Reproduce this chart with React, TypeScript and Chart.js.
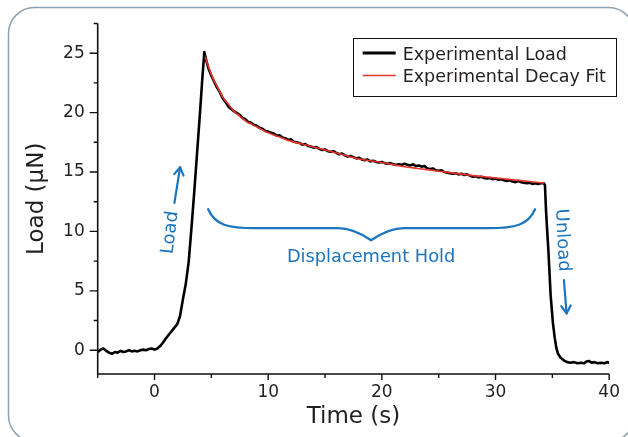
import React, { useEffect, useRef } from "react";
import { Chart, registerables } from "chart.js";

Chart.register(...registerables);

// ---------- data ----------
const preLoadTime = [
  -5, -4.75, -4.5, -4.25, -4, -3.75, -3.5, -3.25, -3, -2.75, -2.5, -2.25, -2, -1.75, -1.5, -1.25, -1, -0.75, -0.5, -0.25, 0,
  0.25, 0.5, 0.75, 1, 1.25, 1.5, 1.75, 2, 2.25, 2.5, 2.75, 3, 3.25, 3.5, 3.75, 4, 4.2, 4.38, 4.55, 4.75,
];
const preLoadValue = [
  -0.15, 0.05, 0.15, -0.05, -0.2, -0.3, -0.15, -0.2, -0.05, -0.15, -0.1, 0.0, -0.1, -0.05, -0.1, 0.0, 0.05, 0.0, 0.1, 0.15, 0.05,
  0.15, 0.35, 0.65, 1.0, 1.3, 1.6, 1.9, 2.2, 2.9, 4.3, 5.6, 7.4, 10.3, 13.4, 16.7, 20.0, 22.8, 25.1, 24.4, 23.7,
];

const holdTime = [
  5, 5.25, 5.5, 5.75, 6, 6.25, 6.5, 6.75, 7, 7.25, 7.5, 7.75, 8, 8.25, 8.5, 8.75, 9, 9.25, 9.5, 9.75,
  10, 10.25, 10.5, 10.75, 11, 11.25, 11.5, 11.75, 12, 12.25, 12.5, 12.75, 13, 13.25, 13.5, 13.75, 14, 14.25, 14.5, 14.75,
  15, 15.25, 15.5, 15.75, 16, 16.25, 16.5, 16.75, 17, 17.25, 17.5, 17.75, 18, 18.25, 18.5, 18.75, 19, 19.25, 19.5, 19.75,
  20, 20.25, 20.5, 20.75, 21, 21.25, 21.5, 21.75, 22, 22.25, 22.5, 22.75, 23, 23.25, 23.5, 23.75, 24, 24.25, 24.5, 24.75,
  25, 25.25, 25.5, 25.75, 26, 26.25, 26.5, 26.75, 27, 27.25, 27.5, 27.75, 28, 28.25, 28.5, 28.75, 29, 29.25, 29.5, 29.75,
  30, 30.25, 30.5, 30.75, 31, 31.25, 31.5, 31.75, 32, 32.25, 32.5, 32.75, 33, 33.25, 33.5, 33.75, 34, 34.25,
];
const holdValue = [
  23.1, 22.6, 22.1, 21.7, 21.2, 20.9, 20.5, 20.3, 20.1, 19.95, 19.8, 19.55, 19.45, 19.2, 19.15, 18.95, 18.9, 18.7, 18.65, 18.45,
  18.4, 18.3, 18.25, 18.05, 18.1, 17.9, 17.85, 17.7, 17.75, 17.55, 17.5, 17.45, 17.3, 17.35, 17.2, 17.15, 17.05, 17.1, 16.95, 16.85,
  16.9, 16.75, 16.7, 16.75, 16.6, 16.5, 16.55, 16.4, 16.3, 16.35, 16.25, 16.15, 16.2, 16.05, 16.0, 16.05, 15.9, 15.95, 15.85, 15.8,
  15.85, 15.75, 15.7, 15.75, 15.65, 15.6, 15.65, 15.6, 15.7, 15.6, 15.55, 15.65, 15.5, 15.55, 15.45, 15.5, 15.3, 15.25, 15.3, 15.15,
  15.1, 15.15, 15.0, 14.95, 14.9, 14.85, 14.9, 14.8, 14.85, 14.75, 14.8, 14.7, 14.6, 14.65, 14.55, 14.6, 14.5, 14.45, 14.5, 14.4,
  14.45, 14.35, 14.4, 14.3, 14.25, 14.3, 14.2, 14.15, 14.25, 14.15, 14.1, 14.05, 14.1, 14.0, 14.05, 14.0, 14.05, 14.05,
];

const unloadTime = [
  34.35, 34.45, 34.65, 34.85, 35.05, 35.2, 35.35, 35.5, 35.7, 36.0, 36.3, 36.6, 36.9, 37.2, 37.5, 37.8, 38.0, 38.2, 38.45, 38.7,
  39.0, 39.3, 39.6, 39.8, 40.0,
];
const unloadValue = [
  13.9, 11.6, 8.4, 4.6, 2.3, 1.1, 0.2, -0.3, -0.6, -0.85, -1.0, -1.05, -1.0, -1.1, -1.05, -1.1, -0.95, -0.9, -1.05, -1.0,
  -1.1, -1.05, -1.1, -1.0, -1.05,
];

const fitTime = [
  4.45, 5, 5.5, 6, 6.5, 7, 7.5, 8, 8.5, 9, 9.5, 10, 11, 12, 13, 14, 15, 16, 17, 18, 19, 20, 21, 22, 23, 24, 25, 26, 27, 28, 29,
  30, 31, 32, 33, 34, 34.3,
];
const fitValue = [
  24.7, 23.2, 22.2, 21.3, 20.7, 20.1, 19.7, 19.3, 19.05, 18.8, 18.55, 18.3, 17.95, 17.6, 17.35, 17.1, 16.85, 16.6, 16.35, 16.1,
  15.95, 15.8, 15.62, 15.45, 15.32, 15.2, 15.07, 14.95, 14.82, 14.7, 14.6, 14.5, 14.4, 14.3, 14.2, 14.1, 14.07,
];

const seriesLabels = ["Experimental Load", "Experimental Decay Fit"];
const xAxisTitle = "Time (s)";
const yAxisTitle = "Load (µN)";
const xRange = [-5, 40];
const yRange = [-2, 27.5];
const annotationText = { load: "Load", unload: "Unload", hold: "Displacement Hold" };

// annotation anchors in data units
const loadArrow = { from: [1.75, 12.4], to: [2.25, 15.4] };
const loadLabelAt = [1.4, 9.9];
const unloadArrow = { from: [36.02, 5.9], to: [36.25, 3.1] };
const unloadLabelAt = [35.87, 9.26];
const brace = { left: 4.72, right: 33.48, center: 19.05, top: 11.87, flat: 10.27, cusp: 9.26 };
const holdLabelAt = [19.05, 7.8];

// ---------- style ----------
const FONT = '"DejaVu Sans", "Liberation Sans", sans-serif';
const BLUE = "#1c75bc";
const RED = "#e8352b";
const TEXT = "#231f20";

const toXY = (ts: number[], vs: number[]) => ts.map((t, i) => ({ x: t, y: vs[i] }));

function drawArrow(ctx: CanvasRenderingContext2D, x0: number, y0: number, x1: number, y1: number) {
  ctx.beginPath();
  ctx.moveTo(x0, y0);
  ctx.lineTo(x1, y1);
  ctx.stroke();
  const ang = Math.atan2(y1 - y0, x1 - x0);
  const len = 9;
  const spread = 0.55;
  ctx.beginPath();
  ctx.moveTo(x1 - len * Math.cos(ang - spread), y1 - len * Math.sin(ang - spread));
  ctx.lineTo(x1, y1);
  ctx.lineTo(x1 - len * Math.cos(ang + spread), y1 - len * Math.sin(ang + spread));
  ctx.stroke();
}

const decorPlugin = {
  id: "decor",
  beforeDraw(chart: any) {
    const ctx: CanvasRenderingContext2D = chart.ctx;
    ctx.save();
    ctx.fillStyle = "#ffffff";
    ctx.fillRect(0, 0, chart.width, chart.height);
    ctx.strokeStyle = "#8da2b0";
    ctx.lineWidth = 1.5;
    ctx.beginPath();
    (ctx as any).roundRect(8.5, 7.5, 626, 434, 26);
    ctx.stroke();
    ctx.restore();
  },
  afterDraw(chart: any) {
    const ctx: CanvasRenderingContext2D = chart.ctx;
    const ca = chart.chartArea;
    const xs = chart.scales.x;
    const ys = chart.scales.y;
    const X = (v: number) => xs.getPixelForValue(v);
    const Y = (v: number) => ys.getPixelForValue(v);
    ctx.save();

    // axes lines
    ctx.strokeStyle = "#111";
    ctx.lineWidth = 1.6;
    ctx.beginPath();
    ctx.moveTo(ca.left, ca.top);
    ctx.lineTo(ca.left, ca.bottom);
    ctx.lineTo(ca.right, ca.bottom);
    ctx.stroke();

    // tick marks
    ctx.lineWidth = 1.4;
    ctx.beginPath();
    for (const t of xs.ticks) {
      const v = t.value;
      if (Math.abs(v / 5 - Math.round(v / 5)) > 1e-6) continue;
      const p = X(v);
      const major = Math.abs(v % 10) < 1e-6;
      ctx.moveTo(p, ca.bottom);
      ctx.lineTo(p, ca.bottom + (major ? 6 : 4));
    }
    for (const t of ys.ticks) {
      const v = t.value;
      if (Math.abs(v / 2.5 - Math.round(v / 2.5)) > 1e-6) continue;
      const p = Y(v);
      const major = Math.abs(v % 5) < 1e-6;
      ctx.moveTo(ca.left, p);
      ctx.lineTo(ca.left - (major ? 8 : 4), p);
    }
    ctx.stroke();

    // legend
    const lx = ca.right - 256.5;
    const ly = ca.top + 14;
    ctx.lineWidth = 1;
    ctx.strokeStyle = "#111";
    ctx.strokeRect(Math.round(lx) + 0.5, Math.round(ly) + 0.5, 263, 58);
    ctx.lineCap = "butt";
    ctx.strokeStyle = "#000";
    ctx.lineWidth = 3;
    ctx.beginPath();
    ctx.moveTo(lx + 10, ly + 15.5);
    ctx.lineTo(lx + 43, ly + 15.5);
    ctx.stroke();
    ctx.strokeStyle = RED;
    ctx.lineWidth = 1.5;
    ctx.beginPath();
    ctx.moveTo(lx + 10, ly + 38);
    ctx.lineTo(lx + 43, ly + 38);
    ctx.stroke();
    ctx.fillStyle = TEXT;
    ctx.font = `17.5px ${FONT}`;
    ctx.textAlign = "left";
    ctx.textBaseline = "alphabetic";
    ctx.fillText(seriesLabels[0], lx + 50, ly + 22);
    ctx.fillText(seriesLabels[1], lx + 50, ly + 44.5);

    // annotations
    ctx.strokeStyle = BLUE;
    ctx.fillStyle = BLUE;
    ctx.lineWidth = 2.2;
    ctx.lineCap = "round";
    ctx.lineJoin = "round";
    drawArrow(ctx, X(loadArrow.from[0]), Y(loadArrow.from[1]), X(loadArrow.to[0]), Y(loadArrow.to[1]));
    drawArrow(ctx, X(unloadArrow.from[0]), Y(unloadArrow.from[1]), X(unloadArrow.to[0]), Y(unloadArrow.to[1]));

    ctx.font = `18px ${FONT}`;
    ctx.textAlign = "center";
    ctx.textBaseline = "middle";
    ctx.save();
    ctx.translate(X(loadLabelAt[0]), Y(loadLabelAt[1]));
    ctx.rotate((-83 * Math.PI) / 180);
    ctx.fillText(annotationText.load, 0, 0);
    ctx.restore();
    ctx.save();
    ctx.translate(X(unloadLabelAt[0]), Y(unloadLabelAt[1]));
    ctx.rotate((87 * Math.PI) / 180);
    ctx.fillText(annotationText.unload, 0, 0);
    ctx.restore();

    ctx.font = `17.8px ${FONT}`;
    ctx.fillText(annotationText.hold, X(holdLabelAt[0]), Y(holdLabelAt[1]));

    // curly brace
    const xl = X(brace.left);
    const xr = X(brace.right);
    const xc = X(brace.center);
    const yt = Y(brace.top);
    const yf = Y(brace.flat);
    const yc = Y(brace.cusp);
    ctx.lineWidth = 2.3;
    ctx.beginPath();
    ctx.moveTo(xl, yt);
    ctx.bezierCurveTo(xl + 7, yf - 3, xl + 20, yf, xl + 47, yf);
    ctx.lineTo(xc - 33, yf);
    ctx.bezierCurveTo(xc - 18, yf, xc - 6, yc - 4, xc, yc);
    ctx.bezierCurveTo(xc + 6, yc - 4, xc + 18, yf, xc + 33, yf);
    ctx.lineTo(xr - 47, yf);
    ctx.bezierCurveTo(xr - 20, yf, xr - 7, yf - 3, xr, yt);
    ctx.stroke();

    ctx.restore();
  },
};

export default function App() {
  const ref = useRef<HTMLCanvasElement>(null);
  useEffect(() => {
    if (!ref.current) return;
    const loadData = [
      ...toXY(preLoadTime, preLoadValue),
      ...toXY(holdTime, holdValue),
      ...toXY(unloadTime, unloadValue),
    ];
    const chart = new Chart(ref.current, {
      type: "line",
      data: {
        datasets: [
          {
            label: seriesLabels[0],
            data: loadData,
            borderColor: "#000",
            borderWidth: 2.6,
            pointRadius: 0,
            tension: 0,
            borderJoinStyle: "round",
            order: 1,
          },
          {
            label: seriesLabels[1],
            data: toXY(fitTime, fitValue),
            borderColor: RED,
            borderWidth: 1.6,
            pointRadius: 0,
            cubicInterpolationMode: "monotone",
            order: 0,
          },
        ],
      },
      options: {
        animation: false,
        responsive: false,
        devicePixelRatio: 1,
        layout: { padding: { top: 23.5, right: 16, bottom: 0, left: 0 } },
        plugins: { legend: { display: false }, tooltip: { enabled: false } },
        scales: {
          x: {
            type: "linear",
            min: xRange[0],
            max: xRange[1],
            afterFit: (s: any) => {
              s.height = 63;
            },
            grid: { display: false, drawTicks: false },
            border: { display: false },
            ticks: {
              stepSize: 5,
              autoSkip: false,
              maxRotation: 0,
              includeBounds: false,
              padding: 8,
              color: TEXT,
              font: { family: FONT, size: 17 },
              callback: (v: any) => (Math.abs(v % 10) < 1e-6 ? String(v) : ""),
            },
            title: {
              display: true,
              text: xAxisTitle,
              color: TEXT,
              font: { family: FONT, size: 23 },
              padding: { top: 0, bottom: 6 },
            },
          },
          y: {
            type: "linear",
            min: yRange[0],
            max: yRange[1],
            afterFit: (s: any) => {
              s.width = 97.7;
            },
            grid: { display: false, drawTicks: false },
            border: { display: false },
            ticks: {
              stepSize: 2.5,
              autoSkip: false,
              includeBounds: false,
              padding: 13,
              color: TEXT,
              font: { family: FONT, size: 17 },
              callback: (v: any) => (Math.abs(v % 5) < 1e-6 ? String(v) : ""),
            },
            title: {
              display: true,
              text: yAxisTitle,
              color: TEXT,
              font: { family: FONT, size: 23 },
              padding: { top: 23, bottom: 0 },
            },
          },
        },
      },
      plugins: [decorPlugin],
    } as any);
    return () => chart.destroy();
  }, []);
  return (
    <div style={{ position: "fixed", left: 0, top: 0, width: 628, height: 437, background: "#fff", overflow: "hidden" }}>
      <canvas ref={ref} width={628} height={437} style={{ display: "block", width: 628, height: 437 }} />
    </div>
  );
}
